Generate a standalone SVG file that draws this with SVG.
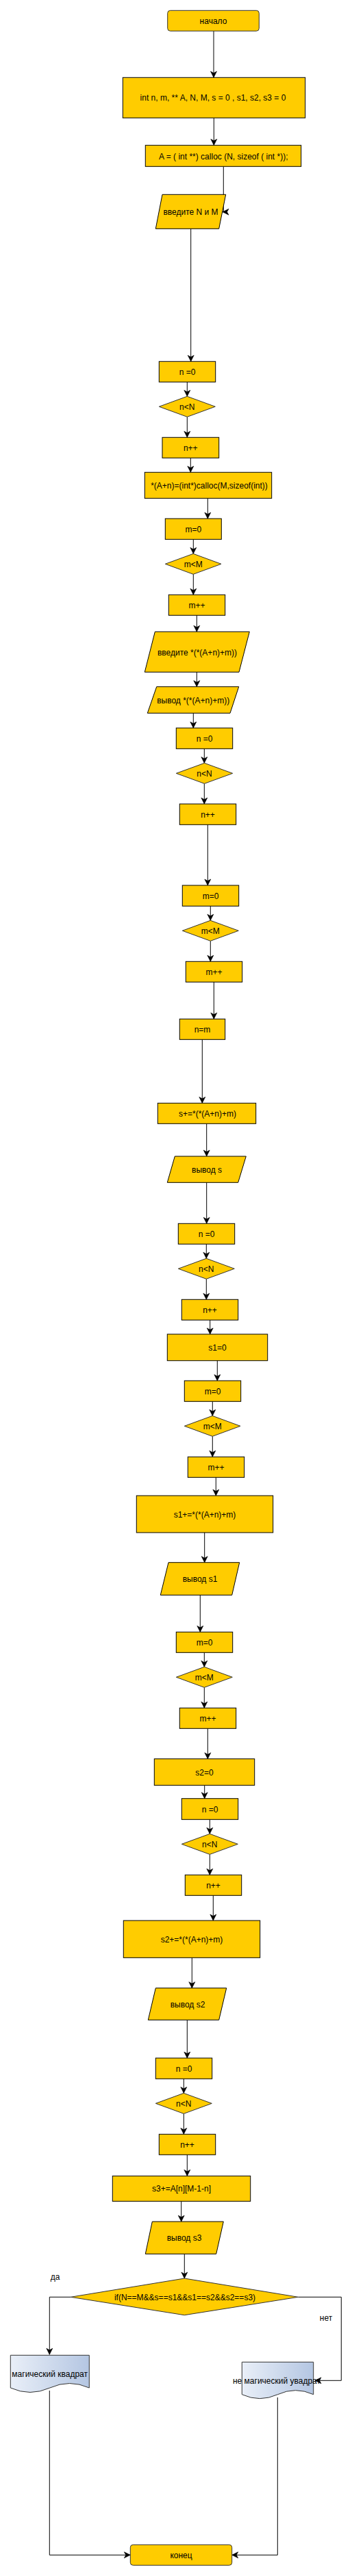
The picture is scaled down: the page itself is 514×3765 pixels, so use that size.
<svg xmlns="http://www.w3.org/2000/svg" width="514" height="3765" viewBox="0 0 514 3765">
<style>
.b{fill:#FFCC00;stroke:#000;stroke-width:1}
.r{fill:#FFCC00;stroke:#333;stroke-width:1}
.d{stroke:#333;stroke-width:1}
.t{font-family:"Liberation Sans",Arial,sans-serif;font-size:12px;fill:#000;text-anchor:middle;dominant-baseline:central}
.c{fill:none;stroke:#000;stroke-width:1;marker-end:url(#arr)}
</style>
<defs>
<marker id="arr" markerUnits="userSpaceOnUse" viewBox="-10 -6 11 12" refX="0" refY="0" markerWidth="11" markerHeight="12" orient="auto">
<path d="M-9,-4.5 L0,0 L-9,4.5 L-6.5,0 Z" fill="#000" stroke="#000" stroke-width="0.6"/>
</marker>
<linearGradient id="docg" x1="0" y1="0" x2="1" y2="0">
<stop offset="0" stop-color="#E9EFF8"/>
<stop offset="1" stop-color="#B4C6E2"/>
</linearGradient>
</defs>
<rect width="514" height="3765" fill="#fff"/>

<g id="connectors">
<path class="c" d="M312,45.3 V113.3"/>
<path class="c" d="M312.3,172.3 V212.3"/>
<path class="c" d="M326.3,243.3 V309.7 H325"/>
<path class="c" d="M278.7,334.3 V528.3"/>
<path class="c" d="M273.3,558.3 V579.3"/>
<path class="c" d="M273.3,609.3 V639.3"/>
<path class="c" d="M278.3,669.3 V690.3"/>
<path class="c" d="M303.3,728.3 V758"/>
<path class="c" d="M282.3,788.3 V809.3"/>
<path class="c" d="M282.3,839.3 V869.3"/>
<path class="c" d="M287.3,899.3 V923.3"/>
<path class="c" d="M287.3,982.3 V1003.7"/>
<path class="c" d="M282.3,1042.3 V1064"/>
<path class="c" d="M298.3,1094.3 V1115.3"/>
<path class="c" d="M298.3,1145.3 V1175"/>
<path class="c" d="M303.3,1205.3 V1294"/>
<path class="c" d="M307.3,1324.3 V1345.3"/>
<path class="c" d="M307.3,1375.3 V1405.3"/>
<path class="c" d="M312.3,1435.3 V1489.3"/>
<path class="c" d="M295.3,1519.3 V1612.3"/>
<path class="c" d="M301.7,1642.3 V1690"/>
<path class="c" d="M301.7,1728.3 V1788.3"/>
<path class="c" d="M301.3,1818.3 V1839.3"/>
<path class="c" d="M301.3,1869.3 V1899.3"/>
<path class="c" d="M306.7,1929.3 V1950"/>
<path class="c" d="M317.3,1988.7 V2018"/>
<path class="c" d="M310.3,2048.3 V2069.3"/>
<path class="c" d="M310.3,2099.3 V2129.3"/>
<path class="c" d="M315.3,2159.3 V2186"/>
<path class="c" d="M298.7,2240 V2283.7"/>
<path class="c" d="M292.3,2331.3 V2385.3"/>
<path class="c" d="M298.3,2415.3 V2436.3"/>
<path class="c" d="M298.3,2466.3 V2496.3"/>
<path class="c" d="M303.3,2526.3 V2570.7"/>
<path class="c" d="M298.7,2609.3 V2628.7"/>
<path class="c" d="M306.3,2659.3 V2680.3"/>
<path class="c" d="M306.3,2710.3 V2740.3"/>
<path class="c" d="M311.3,2770.3 V2807"/>
<path class="c" d="M280.3,2861.3 V2905.7"/>
<path class="c" d="M273.3,2952.3 V3008"/>
<path class="c" d="M268.3,3038.3 V3059.3"/>
<path class="c" d="M268.3,3089.3 V3119.3"/>
<path class="c" d="M273.3,3149.3 V3180.3"/>
<path class="c" d="M264.7,3217.3 V3247"/>
<path class="c" d="M269.3,3294.3 V3330"/>
<path class="c" d="M103.3,3357.3 H72.3 V3441.3"/>
<path class="c" d="M435.3,3357.3 H498.3 V3479.3 H460"/>
<path class="c" d="M72.3,3494 V3734.3 H190.3"/>
<path class="c" d="M405.3,3504 V3734.3 H338.7"/>
<text class="t" x="80.7" y="3328.3">да</text>
<text class="t" x="476" y="3388.3">нет</text>
</g>

<g id="start"><rect class="r" x="244.7" y="15.3" width="133.6" height="30" rx="4"/><text class="t" x="311.5" y="31">начало</text></g>
<g id="decl"><rect class="b" x="179.3" y="113.3" width="266.4" height="59"/><text class="t" x="311" y="143">int n, m, ** A, N, M, s = 0 , s1, s2, s3 = 0</text></g>
<g id="alloc"><rect class="b" x="212.3" y="212.3" width="227.4" height="31"/><text class="t" x="326.3" y="229">A = ( int **) calloc (N, sizeof ( int *));</text></g>
<g id="inNM"><polygon class="b" points="237,284.3 329.7,284.3 319.7,334.3 227.3,334.3"/><text class="t" x="278.5" y="310">введите N и M</text></g>
<g id="n0a"><rect class="b" x="232.3" y="528.3" width="82.4" height="30"/><text class="t" x="273.5" y="543.5">n =0</text></g>
<g id="dNa"><polygon class="b d" points="273.3,579.3 314.3,594.3 273.3,609.3 232.3,594.3"/><text class="t" x="273.3" y="594.5">n&lt;N</text></g>
<g id="npa"><rect class="b" x="237" y="639.3" width="82.7" height="30"/><text class="t" x="278.3" y="654.5">n++</text></g>
<g id="rowalloc"><rect class="b" x="211.3" y="690.3" width="185.4" height="38"/><text class="t" x="305.5" y="710">*(A+n)=(int*)calloc(M,sizeof(int))</text></g>
<g id="m0a"><rect class="b" x="241.3" y="758" width="82" height="30.3"/><text class="t" x="282.3" y="773.5">m=0</text></g>
<g id="dMa"><polygon class="b d" points="282.2,809.3 323,824.3 282.2,839.3 241.3,824.3"/><text class="t" x="282.2" y="824.5">m&lt;M</text></g>
<g id="mpa"><rect class="b" x="246.3" y="869.3" width="82.4" height="30"/><text class="t" x="287.5" y="884.5">m++</text></g>
<g id="inA"><polygon class="b" points="226.3,923.3 364.3,923.3 349,982.3 211.3,982.3"/><text class="t" x="288" y="953.5">введите *(*(A+n)+m))</text></g>
<g id="outA"><polygon class="b" points="228.7,1003.7 348.7,1003.7 336,1042.3 215.3,1042.3"/><text class="t" x="282.2" y="1023.5">вывод *(*(A+n)+m))</text></g>
<g id="n0b"><rect class="b" x="257.3" y="1064" width="82.4" height="30.3"/><text class="t" x="298.5" y="1079.5">n =0</text></g>
<g id="dNb"><polygon class="b d" points="298.5,1115.3 339.7,1130.3 298.5,1145.3 257.3,1130.3"/><text class="t" x="298.5" y="1130.5">n&lt;N</text></g>
<g id="npb"><rect class="b" x="262.3" y="1175" width="82.4" height="30.3"/><text class="t" x="303.5" y="1190.5">n++</text></g>
<g id="m0b"><rect class="b" x="266.3" y="1294" width="82.4" height="30.3"/><text class="t" x="307.5" y="1309.5">m=0</text></g>
<g id="dMb"><polygon class="b d" points="307.3,1345.3 348.3,1360.3 307.3,1375.3 266.3,1360.3"/><text class="t" x="307.3" y="1360.5">m&lt;M</text></g>
<g id="mpb"><rect class="b" x="271.3" y="1405.3" width="82.4" height="30"/><text class="t" x="312.5" y="1420.5">m++</text></g>
<g id="nm"><rect class="b" x="262.3" y="1489.3" width="66.4" height="30"/><text class="t" x="295.5" y="1504.5">n=m</text></g>
<g id="sacc"><rect class="b" x="230.3" y="1612.3" width="143.4" height="30"/><text class="t" x="303" y="1628">s+=*(*(A+n)+m)</text></g>
<g id="outs"><polygon class="b" points="255.3,1690 359.3,1690 347.7,1728.3 244.3,1728.3"/><text class="t" x="302" y="1710">вывод s</text></g>
<g id="n0c"><rect class="b" x="260.3" y="1788.3" width="82.4" height="30"/><text class="t" x="301.5" y="1803.5">n =0</text></g>
<g id="dNc"><polygon class="b d" points="301.3,1839.3 342.3,1854.3 301.3,1869.3 260.3,1854.3"/><text class="t" x="301.3" y="1854.5">n&lt;N</text></g>
<g id="npc"><rect class="b" x="265.3" y="1899.3" width="82.4" height="30"/><text class="t" x="306.5" y="1914.5">n++</text></g>
<g id="s10"><rect class="b" x="244.3" y="1950" width="146.4" height="38.7"/><text class="t" x="317.5" y="1969.5">s1=0</text></g>
<g id="m0c"><rect class="b" x="269.3" y="2018" width="82.4" height="30.3"/><text class="t" x="310.5" y="2033.5">m=0</text></g>
<g id="dMc"><polygon class="b d" points="310.2,2069.3 351,2084.3 310.2,2099.3 269.3,2084.3"/><text class="t" x="310.2" y="2084.5">m&lt;M</text></g>
<g id="mpc"><rect class="b" x="274.3" y="2129.3" width="82.4" height="30"/><text class="t" x="315.5" y="2144.5">m++</text></g>
<g id="s1acc"><rect class="b" x="199.3" y="2186" width="199.4" height="54"/><text class="t" x="299" y="2213.5">s1+=*(*(A+n)+m)</text></g>
<g id="outs1"><polygon class="b" points="246,2283.7 349.7,2283.7 338.7,2331.3 234.3,2331.3"/><text class="t" x="292" y="2308">вывод s1</text></g>
<g id="m0d"><rect class="b" x="257.3" y="2385.3" width="82.4" height="30"/><text class="t" x="298.5" y="2400.5">m=0</text></g>
<g id="dMd"><polygon class="b d" points="298.3,2436.3 339.3,2451.3 298.3,2466.3 257.3,2451.3"/><text class="t" x="298.3" y="2451.5">m&lt;M</text></g>
<g id="mpd"><rect class="b" x="262.3" y="2496.3" width="82.4" height="30"/><text class="t" x="303.5" y="2511.5">m++</text></g>
<g id="s20"><rect class="b" x="225.3" y="2570.7" width="146.4" height="38.6"/><text class="t" x="298.5" y="2590.5">s2=0</text></g>
<g id="n0d"><rect class="b" x="265.3" y="2628.7" width="82.4" height="30.6"/><text class="t" x="306.5" y="2644.5">n =0</text></g>
<g id="dNd"><polygon class="b d" points="306.3,2680.3 347.3,2695.3 306.3,2710.3 265.3,2695.3"/><text class="t" x="306.3" y="2695.5">n&lt;N</text></g>
<g id="npd"><rect class="b" x="270.3" y="2740.3" width="82.4" height="30"/><text class="t" x="311.5" y="2755.5">n++</text></g>
<g id="s2acc"><rect class="b" x="180.3" y="2807" width="199.4" height="54.3"/><text class="t" x="280" y="2834.5">s2+=*(*(A+n)+m)</text></g>
<g id="outs2"><polygon class="b" points="227.3,2905.7 330.7,2905.7 319.7,2952.3 216.3,2952.3"/><text class="t" x="274" y="2929.5">вывод s2</text></g>
<g id="n0e"><rect class="b" x="227.3" y="3008" width="82.4" height="30.3"/><text class="t" x="268.5" y="3023.5">n =0</text></g>
<g id="dNe"><polygon class="b d" points="268.3,3059.3 309.3,3074.3 268.3,3089.3 227.3,3074.3"/><text class="t" x="268.3" y="3074.5">n&lt;N</text></g>
<g id="npe"><rect class="b" x="232.3" y="3119.3" width="82.4" height="30"/><text class="t" x="273.5" y="3134.5">n++</text></g>
<g id="s3acc"><rect class="b" x="164.3" y="3180.3" width="201.4" height="37"/><text class="t" x="265" y="3199">s3+=A[n][M-1-n]</text></g>
<g id="outs3"><polygon class="b" points="222.3,3247 326.3,3247 315.7,3294.3 212.3,3294.3"/><text class="t" x="269" y="3271">вывод s3</text></g>
<g id="cond"><polygon class="b d" points="269.3,3330 435.3,3357.3 269.3,3383.7 103.3,3357.3"/><text class="t" x="270" y="3357.5">if(N==M&amp;&amp;s==s1&amp;&amp;s1==s2&amp;&amp;s2==s3)</text></g>
<g id="docYes"><path d="M15.3,3442.3 H130.3 V3490 Q101.5,3477 72.8,3490 Q44,3503 15.3,3490 Z" fill="url(#docg)" stroke="#333" stroke-width="1"/><text class="t" x="72.7" y="3470">магический квадрат</text></g>
<g id="docNo"><path d="M353.3,3452.3 H457.7 V3499.7 Q431.6,3487.7 405.5,3499.7 Q379.4,3511.6 353.3,3499.7 Z" fill="url(#docg)" stroke="#333" stroke-width="1"/><text class="t" x="404" y="3480">не магический увадрат</text></g>
<g id="end"><rect class="r" x="190.3" y="3719.3" width="148.4" height="30" rx="4"/><text class="t" x="264.5" y="3734.5">конец</text></g>
</svg>
